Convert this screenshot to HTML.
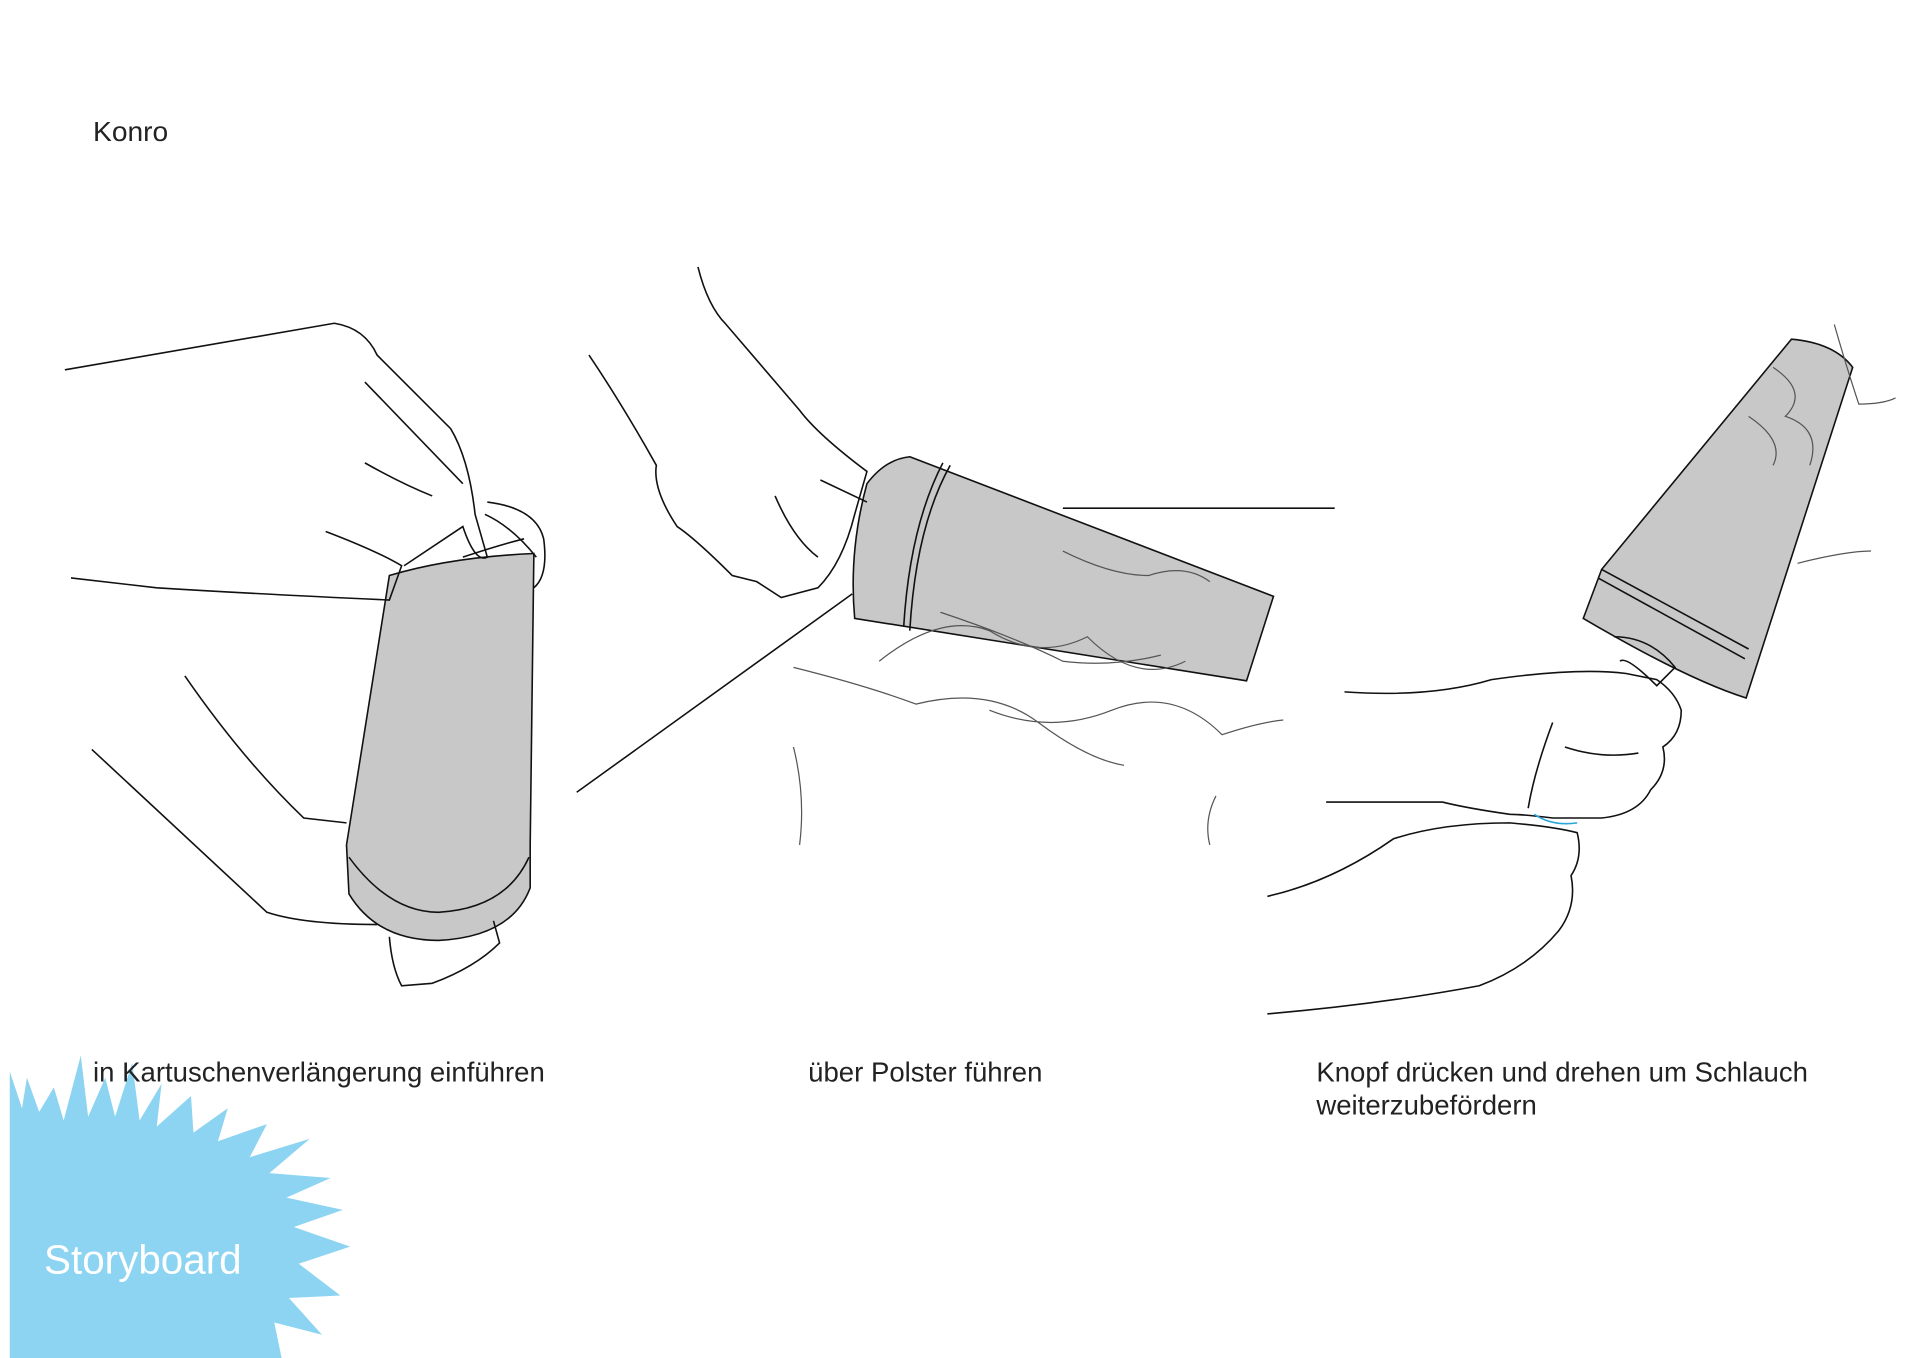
<!DOCTYPE html>
<html><head><meta charset="utf-8">
<style>
html,body{margin:0;padding:0;background:#fff;}
svg{display:block;}
text{font-family:"Liberation Sans","DejaVu Sans",sans-serif;}
</style></head>
<body>
<svg width="1920" height="1358" viewBox="0 0 1552 1109" xmlns="http://www.w3.org/2000/svg">
<rect width="1552" height="1109" fill="#fff"/>
<!-- splash -->
<path fill="#8dd4f2" d="M0,875 L10,905 L14,880 L24,908 L36,888 L44,915 L58,862 L64,912 L78,880 L86,912 L100,868 L106,915 L124,885 L120,920 L148,895 L150,925 L178,905 L170,932 L210,918 L196,945 L245,930 L212,958 L262,962 L226,978 L272,988 L232,1002 L278,1018 L236,1032 L270,1058 L228,1060 L255,1090 L216,1080 L222,1109 L0,1109 Z"/>
<text x="28" y="1040" font-size="33" fill="#fff">Storyboard</text>
<text x="68" y="115" font-size="23" fill="#222">Konro</text>
<text x="68" y="883" font-size="22.5" fill="#222">in Kartuschenverlängerung einführen</text>
<text x="652" y="883" font-size="22.5" fill="#222">über Polster führen</text>
<text x="1067" y="883" font-size="22.5" fill="#222">Knopf drücken und drehen um Schlauch</text>
<text x="1067" y="910" font-size="22.5" fill="#222">weiterzubefördern</text>

<g fill="none" stroke="#111" stroke-width="1.3">
<path d="M310,470 Q360,455 428,452 L425,690 Q400,740 350,742 Q290,740 275,690 Z" fill="#c8c8c8"/>
<path d="M275,690 L277,730 Q300,768 350,768 Q410,765 425,725 L425,690" fill="#c8c8c8"/>
<path d="M277,700 Q310,745 350,745 Q405,742 424,700"/>
<path d="M390,410 Q430,415 436,440 Q440,470 428,480 M388,420 Q410,430 430,455 M370,455 Q400,445 420,440"/>
<path d="M45,302 L265,264 Q290,268 300,290 L360,350 Q375,375 380,420 L390,455 Q380,460 370,430 L322,462 M290,312 L370,395 M290,378 Q320,395 345,405 M258,434 Q300,450 320,462 L310,490 Q200,485 120,480 L50,472"/>
<path d="M143,552 Q190,620 240,668 L275,672 M67,612 L210,745 Q240,755 300,755 M310,765 Q312,790 320,805 L345,803 Q380,790 400,770 L395,752"/>
<path d="M735,373 L1032,487 L1010,556 L690,505 Q685,450 700,395 Q715,375 735,373 Z" fill="#c8c8c8"/>
<path d="M768,380 Q740,430 735,515"/>
<path d="M762,378 Q735,430 730,512"/>
<path d="M860,415 L1082,415 M463,647 L688,485"/>
<path d="M562,218 Q570,250 585,265 L645,335 Q660,355 700,385 L690,420 Q680,460 660,480 L630,488 L610,475 L590,470 Q560,440 545,430 Q525,400 528,380 Q500,330 473,290 M625,405 Q640,440 660,455 M662,392 L700,410"/>
<path stroke="#555" stroke-width="1" d="M710,540 Q760,500 800,515 Q840,540 880,520 Q920,560 960,540 M640,545 Q700,560 740,575 Q800,560 840,590 Q880,620 910,625 M800,580 Q850,600 900,580 Q950,560 990,600 Q1020,590 1040,588 M640,610 Q650,650 645,690 M985,650 Q975,670 980,690 M760,500 Q820,520 860,540 Q900,545 940,535 M860,450 Q900,470 930,470 Q960,460 980,475"/>
<path d="M1455,277 Q1490,280 1505,300 L1418,570 Q1370,555 1285,505 L1300,465 Z" fill="#c8c8c8"/>
<path d="M1300,465 L1420,530 M1297,472 L1417,538"/>
<path d="M1310,520 Q1340,520 1360,545 L1345,560 Q1320,535 1315,540"/>
<path d="M1090,565 Q1160,570 1210,555 Q1280,545 1320,550 L1345,555 Q1360,565 1365,580 Q1365,600 1350,610 Q1355,630 1340,645 Q1330,665 1300,668 L1260,668 Q1235,665 1225,665 Q1190,660 1170,655 L1075,655 M1260,590 Q1245,630 1240,660 M1270,610 Q1300,620 1330,615"/>
<path stroke="#29a6d8" d="M1245,665 Q1260,675 1280,672"/>
<path d="M1027,732 Q1080,720 1130,685 Q1170,672 1225,672 Q1260,675 1280,680 Q1285,700 1275,715 Q1280,740 1265,760 Q1240,790 1200,805 Q1120,820 1027,828"/>
<path stroke="#555" stroke-width="1" d="M1440,300 Q1470,320 1450,340 Q1480,350 1470,380 M1490,265 Q1500,300 1510,330 Q1530,330 1540,325 M1420,340 Q1450,360 1440,380 M1460,460 Q1500,450 1520,450"/>
</g>
</svg>
</body></html>
